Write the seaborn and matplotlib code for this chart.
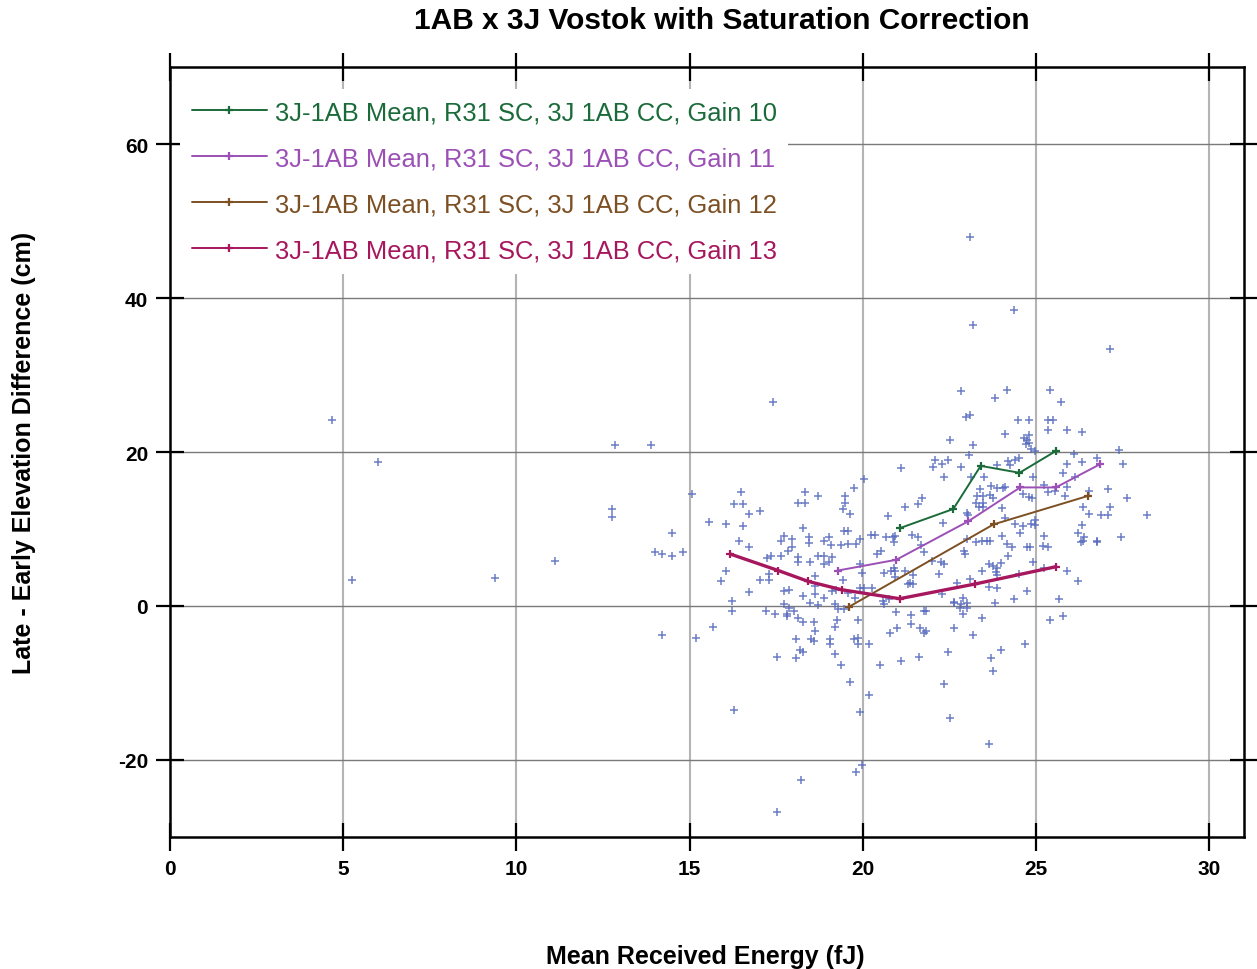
import numpy as np
import pandas as pd
import matplotlib
matplotlib.use("Agg")
import matplotlib.pyplot as plt
import seaborn as sns

###############################################################
# scatter of individual crossover differences
energy = [4.69, 5.99, 5.26, 9.38, 11.11, 12.84, 13.88, 12.77, 12.77, 14.5, 14.01, 14.19, 14.5, 14.81,
          15.06, 15.56, 16.04, 16.29, 16.54, 16.47, 16.72, 16.54, 16.41, 16.72, 16.04, 15.91, 16.72,
          16.23, 16.23, 15.67, 14.19, 15.17, 27.13, 23.08, 23.19, 24.36, 17.4, 28.2, 22.83,
          17.03, 17.24, 17.34, 17.03, 17.29, 17.29, 17.21, 17.46, 17.65, 17.65, 17.73, 17.94, 17.94,
          17.85, 17.71, 17.88, 17.73, 17.88, 18.02, 17.81, 18.14, 18.14, 18.27, 18.14, 18.33, 18.33,
          18.69, 18.44, 18.44, 18.69, 18.88, 18.46, 18.27, 18.46, 18.69, 18.63, 18.63, 18.63, 18.88,
          19.1, 18.88, 19.02, 18.88, 19.08, 19.12, 19.02, 19.38, 19.44, 19.56, 19.56, 19.81, 19.42,
          19.48, 19.48, 19.62, 19.73, 20.04, 19.92, 19.42, 19.21, 19.58, 19.77, 19.92, 20.04, 19.98,
          19.92, 19.19, 19.29, 19.45, 20.23, 20.35, 20.27, 20.62, 20.52, 20.42, 20.67, 20.73, 20.88,
          20.81, 20.9, 20.58, 20.75, 20.62, 20.96,
          17.8, 18.14, 18.27, 18.58, 18.63, 18.08, 18.5, 18.58, 18.17, 18.27, 17.52, 18.08, 19.25,
          19.19, 19.06, 19.06, 19.19, 19.38, 19.62, 19.75, 19.86, 19.86, 19.86, 20.17, 20.48, 20.17,
          19.92, 16.29, 20.79, 20.99,
          17.52, 18.2, 19.81, 19.98, 22.33, 22.52, 23.63, 23.75, 23.69, 23.99, 24.67, 25.4, 25.79,
          25.65, 22.45, 21.63, 21.1,
          21.4, 21.4, 21.65, 21.77, 21.83, 21.77, 21.83, 22.63, 22.81, 23.0, 23.0, 22.88, 22.63,
          23.19, 23.44, 23.81, 24.36,
          23.81, 25.73, 22.98, 23.08, 24.48, 24.79, 25.35, 25.48, 25.35, 25.9, 26.33, 24.11, 24.65,
          24.8, 24.73, 24.8, 24.7, 24.86, 24.98, 22.52, 23.19,
          22.08, 22.46, 22.27, 22.02, 22.83, 23.06, 21.1, 22.33, 23.13, 23.5, 23.88, 24.19, 24.38,
          24.5, 24.25, 24.92, 23.37, 23.69, 23.86, 24.04, 24.11, 23.3, 23.48, 23.26, 23.48, 23.34,
          23.48, 23.0, 23.04, 23.67, 23.75, 24.02, 24.1, 24.62, 24.79, 24.88, 25.35, 25.54, 25.9,
          26.12, 25.79, 25.9, 26.33, 26.52, 26.75, 26.54, 26.33, 26.21, 26.38, 26.29, 26.75, 26.21,
          25.9, 21.21, 21.6, 21.71, 20.92, 20.9, 21.42, 21.6, 21.67, 21.77, 22.0, 22.25, 22.33,
          21.21, 21.44, 21.29, 21.37, 21.44, 20.92, 20.92, 22.21, 22.27, 22.62, 22.83, 22.89, 22.71,
          22.31, 22.92, 22.94, 23.0, 23.27, 23.44, 23.58, 23.67, 24.17, 24.31, 24.19, 24.38, 24.62,
          24.86, 24.54, 24.75, 24.81, 24.02, 24.96, 24.98, 25.23, 25.19, 24.92, 25.23, 23.65, 23.75,
          23.86, 23.83, 23.88, 24.0, 23.44, 23.63, 23.88, 23.08, 24.73, 24.5,
          24.17, 25.4, 27.38, 27.5, 26.1, 25.83, 25.23, 27.08, 27.63, 26.35, 26.88, 27.08, 27.13,
          26.35, 26.77, 27.44, 25.35]
elev_diff = [24.2, 18.7, 3.4, 3.7, 5.9, 20.9, 20.9, 12.6, 11.5, 9.5, 7.05, 6.75, 6.45, 7.05,
             14.5, 10.9, 10.65, 13.2, 13.2, 14.8, 12.0, 10.4, 8.4, 7.6, 4.5, 3.2, 1.8,
             0.65, -0.7, -2.7, -3.8, -4.1, 33.4, 47.9, 36.5, 38.4, 26.5, 11.8, 27.9,
             12.4, 6.2, 6.5, 3.4, 4.1, 3.4, -0.7, -1.0, 6.5, 8.4, 9.05, 8.75, 7.6,
             7.1, 1.9, 2.1, 0.2, -0.2, -0.7, -1.1, 6.3, 5.7, 10.1, 13.4, 13.4, 14.8,
             14.3, 9.0, 8.2, 6.5, 6.5, 5.7, 1.35, 0.4, 0.1, 3.85, 2.55, 1.5, 1.1,
             1.9, 5.4, 8.9, 8.4, 7.9, 6.4, 5.7, 7.9, 9.8, 9.8, 8.1, 8.1, 12.6,
             13.4, 14.3, 12.0, 15.3, 16.5, 8.75, 3.4, 2.1, 1.7, 1.1, 2.3, 2.3, 4.3,
             5.4, 0.2, -0.35, -0.4, 9.25, 9.25, 2.3, 4.25, 7.2, 6.7, 8.9, 11.7, 8.9,
             4.6, 5.0, 0.6, 0.9, 0.2, -0.8,
             -1.3, -1.55, -2.1, -2.1, -3.2, -4.3, -4.3, -4.6, -5.7, -6.0, -6.6, -6.8, -1.8,
             -2.7, -4.3, -4.9, -6.2, -7.7, -9.9, -4.3, -4.1, -4.9, -1.8, -4.9, -7.7, -11.5,
             -13.8, -13.5, -3.5, -2.9,
             -26.8, -22.6, -21.5, -20.7, -10.1, -14.6, -17.9, -8.5, -6.8, -5.7, -4.9, -1.8, -1.3,
             0.95, -6.0, -6.6, -7.1,
             -1.2, -2.3, -2.9, -3.5, -3.2, -0.7, -0.7, 0.4, -0.2, 0.4, -0.2, -1.0, -2.9,
             -3.8, -1.55, 0.4, 0.9,
             27.0, 26.5, 24.6, 24.8, 24.2, 24.2, 24.2, 24.2, 22.9, 22.9, 22.6, 22.3, 21.8,
             22.2, 21.6, 21.2, 21.0, 20.4, 20.1, 21.5, 20.9,
             19.0, 19.0, 18.4, 18.1, 18.1, 19.6, 17.9, 16.8, 16.8, 16.7, 18.3, 18.8, 19.0,
             19.2, 18.3, 16.7, 15.2, 15.6, 15.3, 15.3, 15.4, 14.3, 14.3, 13.4, 13.4, 12.9,
             12.9, 12.1, 11.8, 14.4, 14.0, 12.7, 11.4, 14.5, 14.1, 14.0, 14.8, 15.0, 15.4,
             16.8, 17.3, 18.4, 18.7, 14.9, 19.2, 12.0, 10.5, 9.5, 9.0, 8.3, 8.3, 3.2,
             4.5, 12.9, 13.3, 14.0, 9.1, 8.3, 9.25, 9.0, 7.9, 7.0, 5.8, 5.7, 5.4,
             4.6, 4.0, 2.8, 2.95, 2.8, 3.8, 4.5, 4.1, 1.5, 0.5, 0.25, 1.1, 2.95,
             10.8, 7.1, 6.75, 8.75, 8.3, 8.4, 8.5, 8.5, 8.05, 7.6, 6.5, 10.6, 10.4,
             10.65, 9.5, 7.6, 7.6, 9.1, 11.2, 10.5, 9.1, 7.8, 5.7, 5.0, 5.4, 5.2,
             4.9, 4.4, 4.0, 5.6, 4.6, 2.5, 2.3, 3.5, 2.0, 4.1,
             28.1, 28.1, 20.2, 18.4, 19.8, 14.3, 15.7, 15.2, 14.0, 12.9, 11.8, 11.8, 12.9,
             8.4, 8.5, 9.0, 7.6]

# binned means per gain setting
g10_x = [21.06, 22.61, 23.40, 24.52, 25.56]
g10_y = [10.1, 12.6, 18.2, 17.3, 20.1]
g11_x = [19.27, 20.96, 23.04, 24.54, 25.57, 26.84]
g11_y = [4.6, 6.0, 11.0, 15.4, 15.4, 18.4]
g12_x = [19.60, 23.77, 26.50]
g12_y = [-0.1, 10.6, 14.3]
g13_x = [16.17, 17.56, 18.42, 19.40, 21.06, 23.23, 25.57]
g13_y = [6.75, 4.6, 3.2, 2.1, 0.95, 2.85, 5.1]

label_base = "3J-1AB Mean, R31 SC, 3J 1AB CC, Gain "
gains = [("10", g10_x, g10_y, "#1b6b3a", 1.4),
         ("11", g11_x, g11_y, "#9b50b5", 1.4),
         ("12", g12_x, g12_y, "#7d5024", 1.4),
         ("13", g13_x, g13_y, "#a6175e", 2.4)]

#############################################################
sns.set_style("white")
plt.rcParams['font.family'] = ['Liberation Sans', 'DejaVu Sans']
plt.rcParams['axes.unicode_minus'] = False
plt.rcParams['text.color'] = 'black'
plt.rcParams['axes.labelcolor'] = 'black'

fig = plt.figure(figsize=(12.57, 9.70), dpi=100)
ax = fig.add_axes([170 / 1257, 1 - 838 / 970, 1074 / 1257, 770 / 970])

df_pts = pd.DataFrame({'energy': energy, 'diff': elev_diff})
sns.scatterplot(data=df_pts, x='energy', y='diff', marker='+', s=28, linewidth=1.1,
                color='#5468bd', alpha=0.85, ax=ax, legend=False, zorder=2)

for g, gx, gy, col, lw in gains:
    sns.lineplot(x=gx, y=gy, color=col, linewidth=lw, marker='+', markersize=6,
                 markeredgewidth=1.6, markeredgecolor=col, estimator=None, sort=False,
                 label=label_base + g, ax=ax, zorder=3)

ax.set_xlim(0, 31)
ax.set_ylim(-30, 70)
ax.set_xticks(np.arange(0, 31, 5))
ax.set_yticks(np.arange(-20, 61, 20))
ax.set_axisbelow(True)
ax.grid(axis='x', color='#b4b4b4', linewidth=1.5)
ax.grid(axis='y', color='#7a7a7a', linewidth=1.0)

for sp in ax.spines.values():
    sp.set_linewidth(1.8)
    sp.set_color('black')
ax.tick_params(direction='inout', length=19.5, width=1.6, top=True, right=True,
               bottom=True, left=True, labelsize=15, pad=6, colors='black')
for lab in ax.get_xticklabels() + ax.get_yticklabels():
    lab.set_fontweight('bold')

ax.set_xlabel('Mean Received Energy (fJ)', fontsize=18, fontweight='bold')
ax.set_ylabel('Late - Early Elevation Difference (cm)', fontsize=18, fontweight='bold')
ax.xaxis.set_label_coords(0.498, -0.139)
ax.yaxis.set_label_coords(-0.125, 0.5)

fig.text(722 / 1257, 1 - 21 / 970, '1AB x 3J Vostok with Saturation Correction',
         fontsize=21.5, fontweight='bold', ha='center', va='center')

leg = ax.legend(loc='upper left', bbox_to_anchor=(0.0, 0.985), fontsize=18.4, frameon=True,
                facecolor='white', edgecolor='none', framealpha=1, fancybox=False,
                handlelength=2.95, handletextpad=0.3, labelspacing=0.86, borderpad=0.45,
                borderaxespad=0.4)
for txt, line in zip(leg.get_texts(), leg.get_lines()):
    txt.set_color(line.get_color())
    line.set_linewidth(1.4)

plt.savefig('out.png', dpi=100)
